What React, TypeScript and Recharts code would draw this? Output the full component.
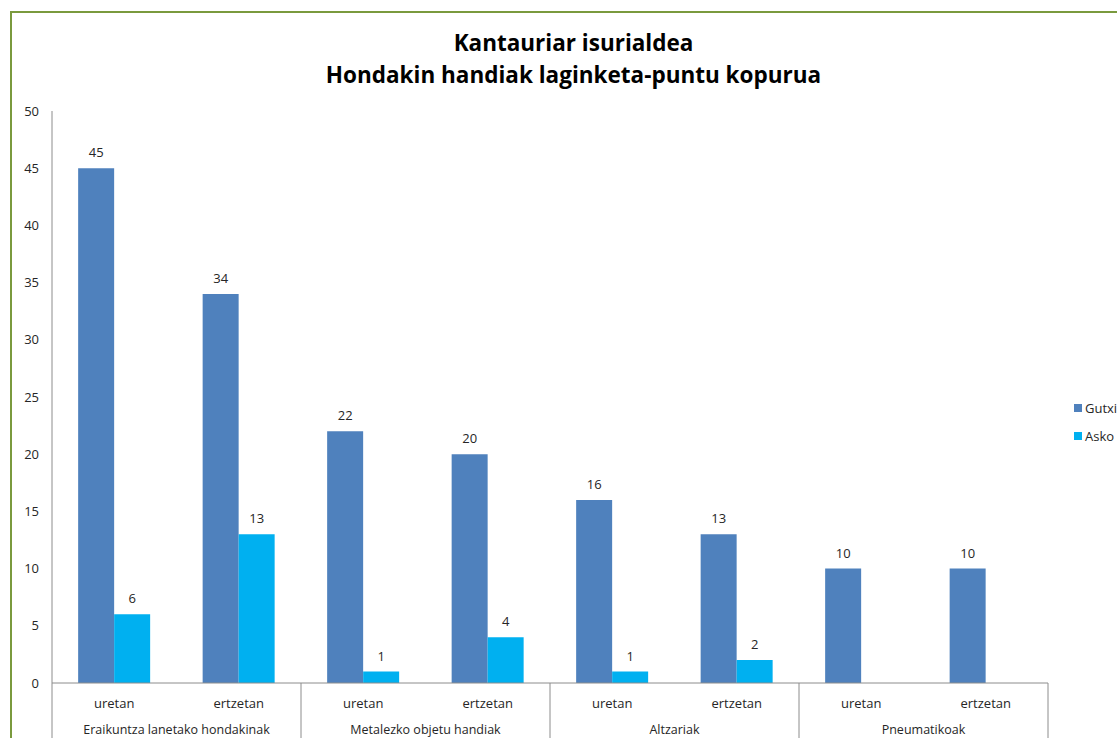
import React from "react";
import { BarChart, Bar, XAxis, YAxis, LabelList } from "recharts";

const subCategories = ["uretan", "ertzetan", "uretan", "ertzetan", "uretan", "ertzetan", "uretan", "ertzetan"];
const groups = ["Eraikuntza lanetako hondakinak", "Metalezko objetu handiak", "Altzariak", "Pneumatikoak"];
const gutxi = [45, 34, 22, 20, 16, 13, 10, 10];
const asko: (number | null)[] = [6, 13, 1, 4, 1, 2, null, null];
const yTicks = [0, 5, 10, 15, 20, 25, 30, 35, 40, 45, 50];
const titleLines = ["Kantauriar isurialdea", "Hondakin handiak laginketa-puntu kopurua"];
const seriesNames = ["Gutxi", "Asko"];
const colors = ["#4F81BD", "#00B0F0"];

const data = subCategories.map((s, i) => ({
  key: String(i),
  sub: s,
  group: groups[Math.floor(i / 2)],
  Gutxi: gutxi[i],
  Asko: asko[i],
}));

const FONT = "'Open Sans', 'Noto Sans', sans-serif";
const AXIS_COLOR = "#8C8C8C";
const TEXT_COLOR = "#262626";

const XTick = (props: any) => {
  const { x, y, payload } = props;
  const idx = payload.index;
  const half = payload.offset || 0;
  const d = data[idx];
  const els: React.ReactNode[] = [];
  els.push(
    <text key="s" x={x} y={y + 25} textAnchor="middle" fontSize={13} fill={TEXT_COLOR} fontFamily={FONT}>
      {d.sub}
    </text>
  );
  if (idx === 0) {
    els.push(<line key="l0" x1={x - half} x2={x - half} y1={y} y2={y + 80} stroke={AXIS_COLOR} strokeWidth={1} />);
  }
  if (idx % 2 === 1) {
    els.push(<line key="lr" x1={x + half} x2={x + half} y1={y} y2={y + 80} stroke={AXIS_COLOR} strokeWidth={1} />);
    els.push(
      <text key="g" x={x - half} y={y + 51} textAnchor="middle" fontSize={12.5} fill={TEXT_COLOR} fontFamily={FONT}>
        {d.group}
      </text>
    );
  }
  return <g>{els}</g>;
};

const Legend = () => (
  <div
    style={{
      position: "absolute",
      left: 1074,
      top: 394,
      width: 120,
      fontFamily: FONT,
      fontSize: 13,
      color: TEXT_COLOR,
      whiteSpace: "nowrap",
    }}
  >
    {seriesNames.map((n, i) => (
      <div key={n} style={{ display: "flex", alignItems: "center", height: 28 }}>
        <span style={{ width: 8, height: 8, flex: "0 0 8px", background: colors[i], display: "inline-block", marginRight: 3 }} />
        <span>{n}</span>
      </div>
    ))}
  </div>
);

export default function App() {
  return (
    <div style={{ position: "absolute", left: 0, top: 0, width: 1117, height: 738, overflow: "hidden", background: "#fff" }}>
      <div
        style={{
          position: "absolute",
          left: 10,
          top: 11,
          width: 1200,
          height: 800,
          border: "2px solid #7A9A3E",
          boxSizing: "border-box",
        }}
      />
      <div
        style={{
          position: "absolute",
          left: 0,
          width: 1147,
          top: 27,
          textAlign: "center",
          fontFamily: FONT,
          fontWeight: 700,
          fontSize: 22.5,
          lineHeight: "32px",
          color: "#000",
        }}
      >
        {titleLines.map((t) => (
          <div key={t}>{t}</div>
        ))}
      </div>
      <div style={{ position: "absolute", left: 0, top: 0 }}>
        <BarChart
          width={1117}
          height={738}
          data={data}
          margin={{ top: 111, right: 69, left: 0, bottom: 0 }}
          barCategoryGap="21%"
          barGap={0}
        >
          <YAxis
            width={52}
            domain={[0, 50]}
            ticks={yTicks}
            interval={0}
            tickLine={false}
            axisLine={{ stroke: AXIS_COLOR }}
            tick={{ fontSize: 13, fill: TEXT_COLOR, fontFamily: FONT }}
            tickMargin={13}
            tickSize={0}
          />
          <XAxis
            dataKey="key"
            height={55}
            interval={0}
            tickLine={false}
            tickSize={0}
            tickMargin={0}
            axisLine={{ stroke: AXIS_COLOR }}
            tick={<XTick />}
          />
          {seriesNames.map((n, i) => (
            <Bar key={n} dataKey={n} fill={colors[i]} isAnimationActive={false}>
              <LabelList dataKey={n} position="top" offset={11} fontSize={13} fill={TEXT_COLOR} fontFamily={FONT} />
            </Bar>
          ))}
        </BarChart>
      </div>
      <Legend />
    </div>
  );
}
